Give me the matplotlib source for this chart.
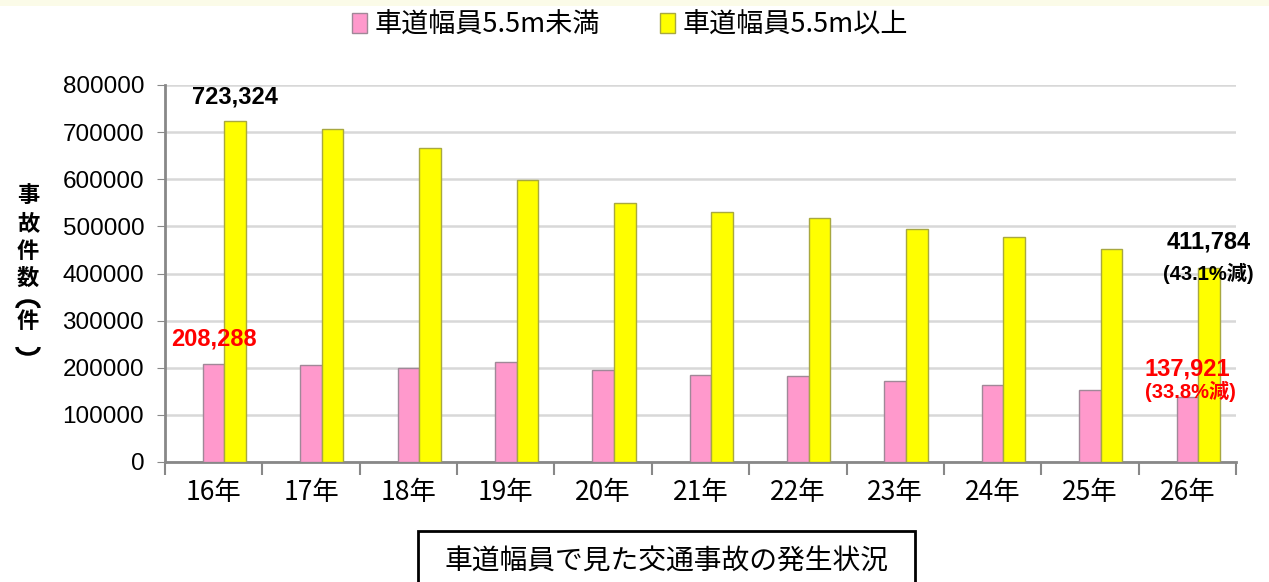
import matplotlib
matplotlib.use("Agg")
import matplotlib.pyplot as plt
from matplotlib.patches import Rectangle, Arc
import numpy as np

plt.rcParams['font.family'] = ['Liberation Sans', 'Noto Sans CJK JP', 'DejaVu Sans']

# データ
years = ['16年', '17年', '18年', '19年', '20年', '21年', '22年', '23年', '24年', '25年', '26年']
narrow = [208288, 205700, 198600, 211300, 194300, 184400, 182300, 171600, 163100, 151800, 137921]
wide = [723324, 707100, 666700, 598600, 549300, 530000, 518600, 494300, 477100, 451400, 411784]
series_names = ['車道幅員5.5m未満', '車道幅員5.5m以上']
yticks = [0, 100000, 200000, 300000, 400000, 500000, 600000, 700000, 800000]

W, H = 1269, 582
fig = plt.figure(figsize=(W / 100, H / 100), dpi=100)
ax = fig.add_axes([165 / W, 1 - 462 / H, (1236 - 165) / W, (462 - 85) / H])

x = np.arange(len(years))
bw = 0.222
b1 = ax.bar(x, narrow, width=bw, color='#ff99cc', edgecolor='#a08898', linewidth=1, zorder=3)
b2 = ax.bar(x + bw, wide, width=bw, color='#ffff00', edgecolor='#a8a840', linewidth=1, zorder=3)

ax.set_xlim(-0.5, len(years) - 0.5)
ax.set_ylim(0, 800000)
ax.set_yticks(yticks)
ax.set_yticklabels([str(v) for v in yticks], fontsize=17.5)
ax.tick_params(axis='y', length=6, color='#888888', pad=9)

# x軸：目盛りは区切り位置、ラベルは中央
ax.set_xticks(np.arange(-0.5, len(years), 1.0))
ax.set_xticklabels([])
ax.set_xticks(x, minor=True)
ax.set_xticklabels(years, minor=True, fontsize=19, family=['Noto Sans CJK JP'])
ax.tick_params(axis='x', which='major', length=9, color='#888888', width=1.5)
ax.tick_params(axis='x', which='minor', length=0, pad=12)

ax.grid(axis='y', color='#d8d8d8', linewidth=1.8, zorder=0)
for s in ['top', 'right']:
    ax.spines[s].set_visible(False)
for s in ['left', 'bottom']:
    ax.spines[s].set_color('#888888')
    ax.spines[s].set_linewidth(2)

# 縦書きの軸ラベル（括弧は弧で描く）
ylab_chars = ['事', '故', '件', '数', '件']
ylab_pos = [196, 224, 251, 278, 322]
for ch, py in zip(ylab_chars, ylab_pos):
    fig.text(28 / W, 1 - py / H, ch, ha='center', va='center',
             fontsize=16, fontweight='bold', family=['Noto Sans CJK JP'])
fig.add_artist(Arc((28 / W, 1 - 308 / H), 22 / W, 14 / H, theta1=0, theta2=180,
                   transform=fig.transFigure, color='black', linewidth=2.5))
fig.add_artist(Arc((28 / W, 1 - 347 / H), 22 / W, 14 / H, theta1=180, theta2=360,
                   transform=fig.transFigure, color='black', linewidth=2.5))

# 注記
ax.text(0.22, 723324 + 52000, '723,324', ha='center', va='center', fontsize=17, fontweight='bold')
ax.text(0.0, 260000, '208,288', ha='center', va='center', fontsize=17, fontweight='bold', color='#ff0000')
ax.text(10.22, 466000, '411,784', ha='center', va='center', fontsize=17, fontweight='bold')
ax.text(10.22, 400000, '(43.1%減)', ha='center', va='center', fontsize=14.5, fontweight='bold',
        family=['Liberation Sans', 'Noto Sans CJK JP'])
ax.text(10.0, 198000, '137,921', ha='center', va='center', fontsize=17, fontweight='bold', color='#ff0000')
ax.text(10.03, 149000, '(33.8%減)', ha='center', va='center', fontsize=14.5, fontweight='bold',
        color='#ff0000', family=['Liberation Sans', 'Noto Sans CJK JP'])

# 凡例
leg = fig.legend([b1, b2], series_names, loc='center', bbox_to_anchor=(630 / W, 1 - 25 / H),
                 ncol=2, frameon=False, handlelength=0.55, handleheight=0.8,
                 handletextpad=0.3, columnspacing=2.2, prop={'family': ['Noto Sans CJK JP'], 'size': 19.5})

# 上端の淡い帯
fig.patches.append(Rectangle((0, 1 - 6 / H), 1, 6 / H, transform=fig.transFigure,
                             facecolor='#fbfbe8', edgecolor='none'))

# タイトル枠
fig.patches.append(Rectangle((418 / W, -0.02), (915 - 418) / W, (582 - 531) / H + 0.02,
                             transform=fig.transFigure, facecolor='white', edgecolor='black', linewidth=2))
fig.text(666 / W, 1 - 561 / H, '車道幅員で見た交通事故の発生状況', ha='center', va='center',
         fontsize=20, family=['Noto Sans CJK JP'])

fig.savefig('out.png', dpi=100)
